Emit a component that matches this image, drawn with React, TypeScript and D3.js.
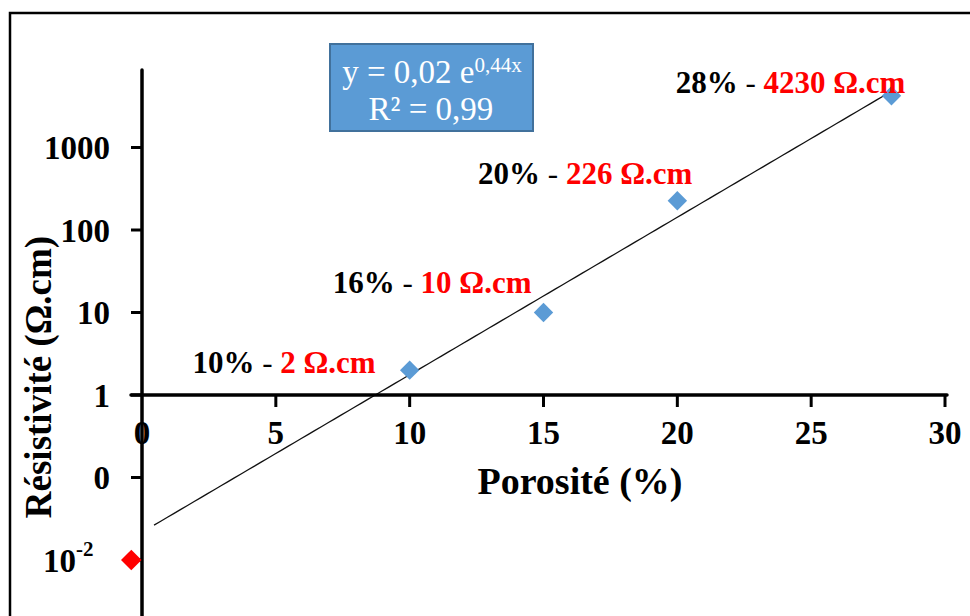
import React from "react";
import * as d3 from "d3";

// ---- data ----
const porosity = [10, 15, 20, 28];
const resistivity = [2, 10, 226, 4230];
const labelPorosity = ["10%", "16%", "20%", "28%"];
const labelResistivity = ["2 Ω.cm", "10 Ω.cm", "226 Ω.cm", "4230 Ω.cm"];
const outlierPoint = { x: -0.4, y: 0.01 };
const xTicks = [0, 5, 10, 15, 20, 25, 30];
const yTicks = [1000, 100, 10, 1, 0.1, 0.01];
const yTickLabels = ["1000", "100", "10", "1", "0", "10"];
const equationText = "y = 0,02 e";
const equationExp = "0,44x";
const r2Text = "R² = 0,99";
const trendRange = [0.45, 28];

// label placement (layout, px offsets relative to point; text-anchor end)
const labelOffsets = [
  { dx: -34, dy: 3 },
  { dx: -12, dy: -20 },
  { dx: 15, dy: -17 },
  { dx: 14, dy: -3 },
];

const W = 970;
const H = 616;
const FONT = "'Liberation Serif', 'Times New Roman', serif";

export default function App() {
  const x = d3.scaleLinear().domain([0, 30]).range([142, 945]);
  const y = d3.scaleLog().domain([0.001, 10000]).range([642.5, 65]);

  // least-squares exponential fit (ln y = ln a + b x)
  const lx = porosity;
  const ly = resistivity.map((v) => Math.log(v));
  const mx = d3.mean(lx) as number;
  const my = d3.mean(ly) as number;
  const sxy = d3.sum(lx.map((v, i) => (v - mx) * (ly[i] - my)));
  const sxx = d3.sum(lx.map((v) => (v - mx) * (v - mx)));
  const b = sxy / sxx;
  const a = Math.exp(my - b * mx);
  const trendXs = d3.range(trendRange[0], trendRange[1] + 0.001, 0.25);
  const trendLine = d3
    .line<number>()
    .x((d) => x(d))
    .y((d) => y(a * Math.exp(b * d)))(trendXs) as string;

  const diamond = d3.symbol().type(d3.symbolDiamond2).size(240)() as string;
  const diamondRed = d3.symbol().type(d3.symbolDiamond2).size(270)() as string;

  const axisY = x(0);
  const axisX = y(1);

  return (
    <svg
      width={W}
      height={H}
      style={{ position: "absolute", left: 0, top: 0, background: "#fff" }}
      fontFamily={FONT}
    >
      <rect x={0} y={0} width={W} height={H} fill="#fff" />
      {/* outer frame */}
      <rect x={10} y={13} width={1000} height={700} fill="none" stroke="#000" strokeWidth={2.5} />

      {/* trend line */}
      <path d={trendLine} fill="none" stroke="#111" strokeWidth={1.3} />

      {/* y axis */}
      <line x1={axisY} x2={axisY} y1={70} y2={H + 5} stroke="#000" strokeWidth={3.5} strokeLinecap="round" />
      {yTicks.map((t, i) => (
        <g key={"yt" + i}>
          <line x1={axisY - 11} x2={axisY} y1={y(t)} y2={y(t)} stroke="#000" strokeWidth={3} />
          <text
            x={i === yTicks.length - 1 ? 76 : 110}
            y={y(t)}
            dy="0.35em"
            textAnchor="end"
            fontSize={33}
            fontWeight="bold"
          >
            {yTickLabels[i]}
          </text>
          {i === yTicks.length - 1 && (
            <text x={76} y={y(t) - 4} fontSize={21} fontWeight="bold">
              -2
            </text>
          )}
        </g>
      ))}

      {/* x axis */}
      <line x1={axisY - 11} x2={x(30) + 2} y1={axisX} y2={axisX} stroke="#000" strokeWidth={3.5} strokeLinecap="round" />
      {xTicks.map((t, i) => (
        <g key={"xt" + i}>
          {t !== 0 && <line x1={x(t)} x2={x(t)} y1={axisX} y2={axisX + 12} stroke="#000" strokeWidth={3} />}
          <text x={x(t)} y={444} textAnchor="middle" fontSize={33} fontWeight="bold">
            {t}
          </text>
        </g>
      ))}

      {/* axis titles */}
      <text x={580} y={494} textAnchor="middle" fontSize={38} fontWeight="bold">
        Porosité (%)
      </text>
      <text
        transform={`translate(51, 377) rotate(-90)`}
        textAnchor="middle"
        fontSize={37}
        fontWeight="bold"
      >
        Résistivité (Ω.cm)
      </text>

      {/* points */}
      {porosity.map((p, i) => (
        <path
          key={"pt" + i}
          d={diamond}
          transform={`translate(${x(p)},${y(resistivity[i])})`}
          fill="#5b9bd5"
        />
      ))}
      <path
        d={diamondRed}
        transform={`translate(${x(outlierPoint.x)},${y(outlierPoint.y)})`}
        fill="#ff0000"
      />

      {/* data labels */}
      {porosity.map((p, i) => (
        <text
          key={"lb" + i}
          x={x(p) + labelOffsets[i].dx}
          y={y(resistivity[i]) + labelOffsets[i].dy}
          textAnchor="end"
          fontSize={31}
          fontWeight="bold"
        >
          <tspan fill="#000">{labelPorosity[i]} </tspan>
          <tspan fill="#000" fontWeight="normal">- </tspan>
          <tspan fill="#ff0000">{labelResistivity[i]}</tspan>
        </text>
      ))}

      {/* equation box */}
      <rect x={330} y={44} width={203} height={87} fill="#5b9bd5" stroke="#41719c" strokeWidth={2} />
      <text x={432} y={83} textAnchor="middle" fontSize={33} fill="#fff">
        {equationText}
        <tspan fontSize={21} dy={-11}>
          {equationExp}
        </tspan>
      </text>
      <text x={431} y={120} textAnchor="middle" fontSize={33} fill="#fff">
        {r2Text}
      </text>
    </svg>
  );
}
